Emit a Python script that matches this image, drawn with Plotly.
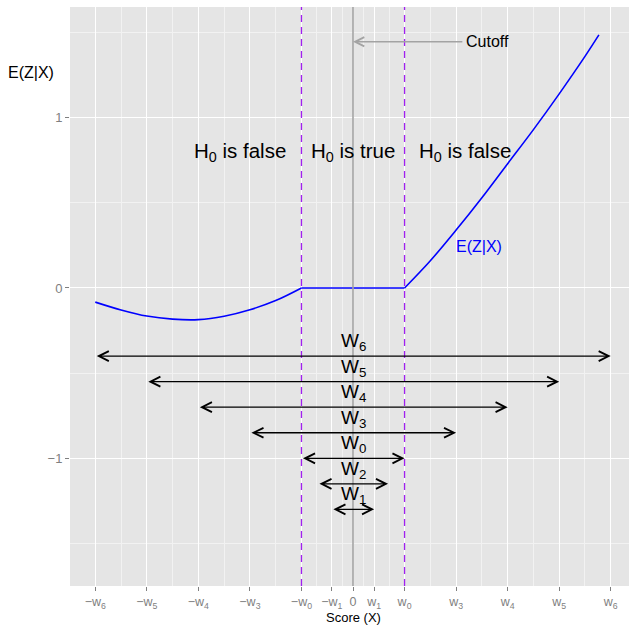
import plotly.graph_objects as go

FONT = "Liberation Sans, Arial, sans-serif"

# E(Z|X) curve
left_x = [-5.0, -4.5, -4.0, -3.5, -3.0, -2.5, -2.0, -1.5, -1.0]
left_y = [-0.083, -0.129, -0.165, -0.183, -0.186, -0.166, -0.128, -0.074, 0.0]
mid_x = [-1.0, 1.0]
mid_y = [0.0, 0.0]
right_x = [1.0, 1.5, 2.0, 2.5, 3.0, 3.5, 4.0, 4.5, 4.77]
right_y = [0.0, 0.16, 0.34, 0.53, 0.73, 0.93, 1.14, 1.36, 1.486]

# interval arrows W
w_labels = ["W<sub>6</sub>", "W<sub>5</sub>", "W<sub>4</sub>", "W<sub>3</sub>",
            "W<sub>0</sub>", "W<sub>2</sub>", "W<sub>1</sub>"]
w_half = [5.0, 4.0, 3.0, 2.0, 1.0, 0.68, 0.41]
w_y = [-0.4, -0.55, -0.7, -0.85, -1.0, -1.15, -1.3]

# axis ticks
x_tick_vals = [-5, -4, -3, -2, -1, -0.41, 0, 0.41, 1, 2, 3, 4, 5]
x_tick_text = ["\u2212w<sub>6</sub>", "\u2212w<sub>5</sub>", "\u2212w<sub>4</sub>",
               "\u2212w<sub>3</sub>", "\u2212w<sub>0</sub>", "\u2212w<sub>1</sub>", "0",
               "w<sub>1</sub>", "w<sub>0</sub>", "w<sub>3</sub>", "w<sub>4</sub>",
               "w<sub>5</sub>", "w<sub>6</sub>"]
x_minor_vals = [-4.5, -3.5, -2.5, -1.5, -0.7, -0.2, 0.2, 0.7, 1.5, 2.5, 3.5, 4.5]
y_tick_vals = [-1, 0, 1]
y_tick_text = ["\u22121", "0", "1"]
y_minor_vals = [-1.5, -0.5, 0.5, 1.5]

cutoffs = [-1.0, 1.0]
region_x = [-2.2, 0.0, 2.17]
region_text = ["H<sub>0</sub> is false", "H<sub>0</sub> is true", "H<sub>0</sub> is false"]
region_y = 0.80

fig = go.Figure()
for xs, ys in [(left_x, left_y), (mid_x, mid_y), (right_x, right_y)]:
    fig.add_trace(go.Scatter(x=xs, y=ys, mode="lines",
                             line=dict(color="#0000FF", width=1.6, shape="spline"),
                             showlegend=False, hoverinfo="skip"))

shapes = []
for c in cutoffs:
    shapes.append(dict(type="line", xref="x", yref="paper", x0=c, x1=c, y0=0, y1=1,
                       line=dict(color="#A020F0", width=1.3, dash="7px,5px"), layer="above"))
shapes.append(dict(type="line", xref="x", yref="paper", x0=0, x1=0, y0=0, y1=1,
                   line=dict(color="#A3A3A3", width=1.6), layer="above"))

ann = []
for lab, h, y in zip(w_labels, w_half, w_y):
    ann.append(dict(x=h, y=y, ax=-h, ay=y, xref="x", yref="y", axref="x", ayref="y",
                    text="", showarrow=True, arrowside="end+start",
                    arrowhead=5, startarrowhead=5, arrowsize=1.5, startarrowsize=1.5,
                    arrowwidth=1.3, arrowcolor="black"))
    ann.append(dict(x=0, y=y, xref="x", yref="y", text=lab, showarrow=False,
                    xanchor="center", yanchor="bottom", yshift=0,
                    font=dict(family=FONT, size=19, color="black")))

for xx, t in zip(region_x, region_text):
    ann.append(dict(x=xx, y=region_y, xref="x", yref="y", text=t, showarrow=False,
                    xanchor="center",
                    font=dict(family=FONT, size=20.5, color="black")))

# cutoff arrow + label
ann.append(dict(x=0, y=1.446, ax=2.15, ay=1.446, xref="x", yref="y", axref="x", ayref="y",
                text="", showarrow=True, arrowhead=5, arrowsize=1.4, arrowwidth=1.3,
                arrowcolor="#A3A3A3"))
ann.append(dict(x=2.15, y=1.446, xref="x", yref="y", text="Cutoff", showarrow=False,
                xanchor="left", font=dict(family=FONT, size=16, color="black")))
ann.append(dict(x=2.44, y=0.243, xref="x", yref="y", text="E(Z|X)", showarrow=False,
                xanchor="center", font=dict(family=FONT, size=16, color="#0000FF")))

# axis titles
ann.append(dict(x=(31 - 70) / 559, y=(586 - 72) / 579, xref="paper", yref="paper",
                text="E(Z|X)", showarrow=False, xanchor="center", yanchor="middle",
                font=dict(family=FONT, size=16, color="black")))
ann.append(dict(x=(353 - 70) / 559, y=(586 - 618) / 579, xref="paper", yref="paper",
                text="Score (X)", showarrow=False, xanchor="center", yanchor="middle",
                font=dict(family=FONT, size=13, color="black")))

fig.update_layout(
    width=629, height=627,
    margin=dict(l=70, r=0, t=7, b=41),
    paper_bgcolor="white", plot_bgcolor="#E5E5E5",
    shapes=shapes, annotations=ann,
    font=dict(family=FONT),
)
fig.update_xaxes(range=[-5.49, 5.354], tickmode="array", tickvals=x_tick_vals,
                 ticktext=x_tick_text, ticks="outside", ticklen=4, tickcolor="#7F7F7F",
                 tickfont=dict(family=FONT, size=12.5, color="#7F7F7F"),
                 showgrid=True, gridcolor="white", gridwidth=1.3, zeroline=False,
                 showline=False,
                 minor=dict(tickmode="array", tickvals=x_minor_vals, showgrid=True,
                            gridcolor="#F2F2F2", gridwidth=0.8, ticks=""))
fig.update_yaxes(range=[-1.75, 1.65], tickmode="array", tickvals=y_tick_vals,
                 ticktext=y_tick_text, ticks="outside", ticklen=4, tickcolor="#7F7F7F",
                 tickfont=dict(family=FONT, size=13, color="#7F7F7F"),
                 showgrid=True, gridcolor="white", gridwidth=1.3, zeroline=False,
                 showline=False,
                 minor=dict(tickmode="array", tickvals=y_minor_vals, showgrid=True,
                            gridcolor="#F2F2F2", gridwidth=0.8, ticks=""))

fig.write_html("out.html")
